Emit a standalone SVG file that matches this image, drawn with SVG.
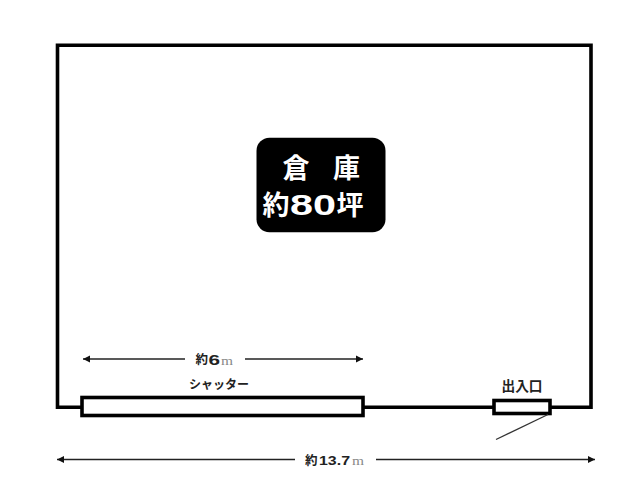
<svg xmlns="http://www.w3.org/2000/svg" width="640" height="498" viewBox="0 0 640 498">
<style>
.jp{font-family:"Noto Sans CJK JP","Liberation Sans",sans-serif;font-weight:700;fill:#222}
.num{font-family:"Liberation Sans",sans-serif;font-weight:700;fill:#222}
.unit{font-family:"Liberation Serif",serif;fill:#888}
.wall{fill:#fff;stroke:#000;stroke-width:3.6}
.dim{stroke:#222;stroke-width:1.3;fill:none}
.white{fill:#fff;font-weight:700}
</style>
<defs>
<marker id="arrow" markerUnits="userSpaceOnUse" markerWidth="8" markerHeight="8" refX="7" refY="4" orient="auto-start-reverse">
<path d="M0 0.5L7 4L0 7.5Z" fill="#111"/>
</marker>
</defs>
<rect width="640" height="498" fill="#fff"/>
<g id="warehouse">
<path d="M57.5 407.2V45.200H591V407.2Z" fill="#fff" stroke="#000" stroke-width="3.6"/>
</g>
<g id="label-box">
<rect x="256.5" y="137.8" width="129" height="94.5" rx="13" fill="#000"/>
<text class="white" x="282.500" y="177.500" font-size="27" font-family="'Noto Sans CJK JP',sans-serif">倉</text>
<text class="white" x="333" y="177.500" font-size="27" font-family="'Noto Sans CJK JP',sans-serif">庫</text>
<text class="white" x="262.500" y="215" font-size="27" font-family="'Noto Sans CJK JP',sans-serif">約</text>
<text class="white" x="290" y="214.500" font-size="29" textLength="46" lengthAdjust="spacingAndGlyphs" font-family="'Liberation Sans',sans-serif">80</text>
<text class="white" x="336.500" y="215" font-size="27" font-family="'Noto Sans CJK JP',sans-serif">坪</text>
</g>
<g id="shutter">
<rect class="wall" x="82" y="397.5" width="281" height="18"/>
<text class="jp" x="219" y="389" font-size="12" text-anchor="middle">シャッター</text>
</g>
<g id="door">
<rect class="wall" x="494" y="400.5" width="56" height="13"/>
<text class="jp" x="522" y="390.500" font-size="13.700" text-anchor="middle">出入口</text>
</g>
<g id="connectors">
<path class="dim" d="M185 359H83" marker-end="url(#arrow)"/>
<path class="dim" d="M245 359H363" marker-end="url(#arrow)"/>
<path class="dim" d="M295 459.500H57" marker-end="url(#arrow)"/>
<path class="dim" d="M376 459.500H595" marker-end="url(#arrow)"/>
<path d="M496 439.500L548 414.500" stroke="#333" stroke-width="1.2" fill="none"/>
</g>
<g id="dimensions">
<text x="195.500" y="364" font-size="12.500"><tspan class="jp">約</tspan></text>
<text class="num" x="208.500" y="365" font-size="15" textLength="11.500" lengthAdjust="spacingAndGlyphs">6</text>
<text class="unit" x="221" y="365" font-size="13" textLength="12" lengthAdjust="spacingAndGlyphs">m</text>
<text x="305" y="465" font-size="12.500"><tspan class="jp">約</tspan></text>
<text class="num" x="319" y="465" font-size="13.500" textLength="31" lengthAdjust="spacingAndGlyphs">13.7</text>
<text class="unit" x="352" y="465" font-size="13" textLength="12" lengthAdjust="spacingAndGlyphs">m</text>
</g>
</svg>
